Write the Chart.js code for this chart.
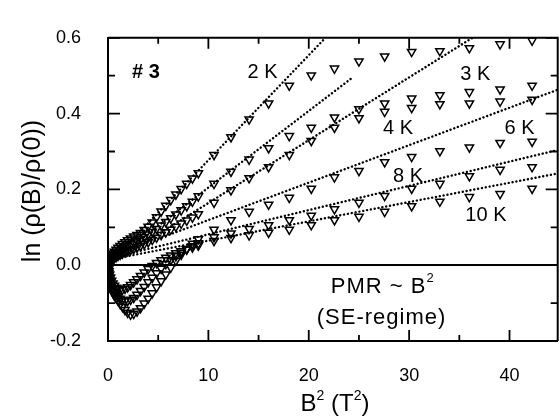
<!DOCTYPE html>
<html>
<head>
<meta charset="utf-8">
<script src="https://cdn.jsdelivr.net/npm/chart.js@4.4.1/dist/chart.umd.min.js"></script>
<style>
  html, body { margin: 0; padding: 0; background: #fff; overflow: hidden; }
  #wrap { width: 560px; height: 418px; position: relative; overflow: hidden; }
  canvas { display: block; }
</style>
</head>
<body>
<div id="wrap"><canvas id="mr" width="564" height="418" style="width:564px;height:418px"></canvas></div>
<script>
// B^2 (T^2): 0.1 T steps up to 3 T, then 0.25 T steps up to 6.5 T
const fieldSq = [0, 0.01, 0.04, 0.09, 0.16, 0.25, 0.36, 0.49, 0.64, 0.81, 1, 1.21, 1.44, 1.69, 1.96,
  2.25, 2.56, 2.89, 3.24, 3.61, 4, 4.41, 4.84, 5.29, 5.76, 6.25, 6.76, 7.29, 7.84, 8.41, 9,
  10.56, 12.25, 14.06, 16, 18.06, 20.25, 22.56, 25, 27.56, 30.25, 33.06, 36, 39.06, 42.25];

// ln(rho(B)/rho(0)) for each temperature
const mr2K = [0, 0.002, 0.006, 0.011, 0.016, 0.021, 0.026, 0.031, 0.036, 0.041, 0.046, 0.051, 0.056, 0.061, 0.066,
  0.071, 0.076, 0.080, 0.085, 0.093, 0.102, 0.113, 0.127, 0.142, 0.157, 0.172, 0.187, 0.201, 0.215, 0.229, 0.243,
  0.291, 0.338, 0.385, 0.427, 0.474, 0.501, 0.519, 0.538, 0.551, 0.563, 0.565, 0.573, 0.583, 0.593];
const mr3K = [0, 0.001, 0.004, 0.008, 0.012, 0.016, 0.020, 0.024, 0.028, 0.032, 0.036, 0.040, 0.044, 0.048, 0.052,
  0.056, 0.060, 0.064, 0.069, 0.075, 0.081, 0.088, 0.096, 0.105, 0.114, 0.124, 0.134, 0.145, 0.156, 0.168, 0.182,
  0.215, 0.247, 0.279, 0.309, 0.341, 0.363, 0.390, 0.412, 0.427, 0.440, 0.449, 0.457, 0.464, 0.474];
const mr4K = [0, 0.001, 0.002, 0.004, 0.007, 0.010, 0.013, 0.016, 0.019, 0.022, 0.025, 0.028, 0.031, 0.034, 0.037,
  0.040, 0.043, 0.047, 0.051, 0.056, 0.061, 0.067, 0.073, 0.080, 0.087, 0.094, 0.102, 0.110, 0.118, 0.126, 0.135,
  0.165, 0.198, 0.230, 0.259, 0.291, 0.328, 0.363, 0.388, 0.405, 0.415, 0.425, 0.427, 0.432, 0.437];
const mr6K = [0, -0.003, -0.012, -0.025, -0.040, -0.052, -0.063, -0.072, -0.080, -0.087, -0.093, -0.102, -0.110, -0.118, -0.125,
  -0.130, -0.128, -0.122, -0.113, -0.101, -0.088, -0.074, -0.058, -0.042, -0.024, -0.006, 0.012, 0.028, 0.043, 0.057, 0.069,
  0.094, 0.119, 0.141, 0.160, 0.178, 0.202, 0.232, 0.249, 0.272, 0.286, 0.301, 0.311, 0.323, 0.326];
const mr8K = [0, -0.003, -0.010, -0.020, -0.032, -0.043, -0.053, -0.062, -0.070, -0.077, -0.083, -0.088, -0.092, -0.094, -0.094,
  -0.091, -0.086, -0.078, -0.068, -0.057, -0.045, -0.033, -0.021, -0.009, 0.003, 0.014, 0.024, 0.033, 0.042, 0.050, 0.058,
  0.074, 0.084, 0.096, 0.106, 0.119, 0.131, 0.148, 0.165, 0.183, 0.202, 0.215, 0.235, 0.252, 0.259];
const mr10K = [0, -0.002, -0.008, -0.016, -0.025, -0.033, -0.041, -0.048, -0.054, -0.059, -0.062, -0.064, -0.064, -0.062, -0.058,
  -0.052, -0.045, -0.037, -0.028, -0.019, -0.010, -0.002, 0.006, 0.013, 0.020, 0.026, 0.032, 0.037, 0.042, 0.047, 0.052,
  0.064, 0.072, 0.079, 0.086, 0.094, 0.106, 0.119, 0.128, 0.141, 0.156, 0.168, 0.180, 0.188, 0.202];

// straight-line fits ln(rho) = a + b*B^2, given by their end points [x0, y0, x1, y1]
const fit2K  = [1, 0.028, 21.66, 0.600];
const fit3K  = [1, 0.023, 24.3, 0.494];
const fit4K  = [1, 0.015, 36.3, 0.600];
const fit6K  = [1, 0.030, 44.8, 0.463];
const fit8K  = [1, 0.024, 44.8, 0.304];
const fit10K = [1, 0.019, 44.8, 0.242];

// axis ticks
const xMajorTicks = [0, 10, 20, 30, 40];
const xMinorTicks = [5, 15, 25, 35];
const yMajorTicks = [-0.2, 0.0, 0.2, 0.4, 0.6];
const yMinorTicks = [-0.1, 0.1, 0.3, 0.5];

// curve labels: [text, x, y, bold]
const curveLabels = [
  ['# 3', 2.4, 0.494, true],
  ['2 K', 13.9, 0.494, false],
  ['3 K', 35.1, 0.489, false],
  ['4 K', 27.4, 0.346, false],
  ['6 K', 39.5, 0.346, false],
  ['8 K', 28.4, 0.220, false],
  ['10 K', 35.6, 0.116, false]
];

const FONT = '"Liberation Sans", Arial, Helvetica, sans-serif';

function points(ys) { return fieldSq.map((x, i) => ({ x: x, y: ys[i] })); }
function seg(f) { return [{ x: f[0], y: f[1] }, { x: f[2], y: f[3] }]; }

function markerSet(label, ys) {
  return {
    type: 'scatter', label: label, data: points(ys),
    pointStyle: 'triangle', rotation: 180, pointRadius: 4.8, pointHoverRadius: 4.8,
    borderColor: '#000', backgroundColor: 'rgba(0,0,0,0)', borderWidth: 1.5, showLine: false
  };
}
function fitSet(label, f) {
  return {
    type: 'line', label: label, data: seg(f), showLine: true,
    borderColor: '#000', borderWidth: 2.4, borderDash: [0.1, 3.8], borderCapStyle: 'round',
    pointRadius: 0, fill: false, tension: 0
  };
}

// inward ticks, frame and all annotation text
const framePlugin = {
  id: 'frame',
  afterDatasetsDraw(chart) {
    const { ctx, chartArea: a, scales: { x, y } } = chart;
    ctx.save();
    ctx.strokeStyle = '#000';
    ctx.lineWidth = 2;
    // top and right edges of the frame
    ctx.beginPath();
    ctx.moveTo(a.left, a.top); ctx.lineTo(a.right, a.top); ctx.lineTo(a.right, a.bottom);
    ctx.stroke();
    ctx.lineWidth = 1.8;
    const tick = (v, len, horiz) => {
      ctx.beginPath();
      if (horiz) {
        const px = x.getPixelForValue(v);
        ctx.moveTo(px, a.bottom); ctx.lineTo(px, a.bottom - len);
        ctx.moveTo(px, a.top); ctx.lineTo(px, a.top + len);
      } else {
        const py = y.getPixelForValue(v);
        ctx.moveTo(a.left, py); ctx.lineTo(a.left + len, py);
        ctx.moveTo(a.right, py); ctx.lineTo(a.right - len, py);
      }
      ctx.stroke();
    };
    xMajorTicks.forEach(v => tick(v, 11, true));
    xMinorTicks.forEach(v => tick(v, 6, true));
    yMajorTicks.forEach(v => tick(v, 12, false));
    yMinorTicks.forEach(v => tick(v, 7, false));

    ctx.fillStyle = '#000';
    ctx.textBaseline = 'alphabetic';
    ctx.textAlign = 'left';
    curveLabels.forEach(([t, vx, vy, bold]) => {
      ctx.font = (bold ? 'bold ' : '') + '20px ' + FONT;
      ctx.fillText(t, x.getPixelForValue(vx), y.getPixelForValue(vy));
    });

    // PMR ~ B^2 (SE-regime)
    ctx.letterSpacing = '1px';
    ctx.font = '22px ' + FONT;
    let px = x.getPixelForValue(22.2), py = y.getPixelForValue(-0.074);
    ctx.fillText('PMR ~ B', px, py);
    let w = ctx.measureText('PMR ~ B').width;
    ctx.font = '13px ' + FONT;
    ctx.fillText('2', px + w, py - 11);
    ctx.font = '22px ' + FONT;
    ctx.fillText('(SE-regime)', x.getPixelForValue(20.8), y.getPixelForValue(-0.156));
    ctx.letterSpacing = '0px';

    // x-axis title: B^2 (T^2)
    const big = '24px ' + FONT, small = '14px ' + FONT;
    const parts = [['B', big, 0], ['2', small, -11], [' (T', big, 0], ['2', small, -11], [')', big, 0]];
    let total = 0;
    parts.forEach(p => { ctx.font = p[1]; total += ctx.measureText(p[0]).width; });
    let cx = 335 - total / 2;
    const by = 411;
    parts.forEach(p => { ctx.font = p[1]; ctx.fillText(p[0], cx, by + p[2]); cx += ctx.measureText(p[0]).width; });

    // y-axis title
    ctx.translate(40, 191);
    ctx.rotate(-Math.PI / 2);
    ctx.font = '25px ' + FONT;
    ctx.textAlign = 'center';
    ctx.fillText('ln (\u03C1(B)/\u03C1(0))', 0, 0);
    ctx.restore();
  }
};

new Chart(document.getElementById('mr'), {
  data: {
    datasets: [
      markerSet('2 K', mr2K), markerSet('3 K', mr3K), markerSet('4 K', mr4K),
      markerSet('6 K', mr6K), markerSet('8 K', mr8K), markerSet('10 K', mr10K),
      fitSet('fit 2 K', fit2K), fitSet('fit 3 K', fit3K), fitSet('fit 4 K', fit4K),
      fitSet('fit 6 K', fit6K), fitSet('fit 8 K', fit8K), fitSet('fit 10 K', fit10K)
    ]
  },
  options: {
    responsive: false,
    animation: false,
    devicePixelRatio: 1,
    layout: { padding: { top: 16, right: 3, left: 0, bottom: 0 } },
    plugins: { legend: { display: false }, tooltip: { enabled: false } },
    scales: {
      x: {
        type: 'linear', min: 0, max: 44.8,
        afterFit: s => { s.height = 77; },
        afterBuildTicks: s => { s.ticks = xMajorTicks.map(v => ({ value: v })); },
        ticks: { color: '#000', padding: 24, font: { family: FONT, size: 18 }, maxRotation: 0 },
        grid: { display: true, drawTicks: false, color: 'rgba(0,0,0,0)' },
        border: { display: true, color: '#000', width: 2 }
      },
      y: {
        type: 'linear', min: -0.2, max: 0.6,
        afterFit: s => { s.width = 108; },
        afterBuildTicks: s => { s.ticks = yMajorTicks.map(v => ({ value: v })); },
        ticks: { color: '#000', padding: 27, font: { family: FONT, size: 18 },
          callback: v => v.toFixed(1) },
        grid: { display: true, drawTicks: false, lineWidth: 2,
          color: c => (c.tick && Math.abs(c.tick.value) < 1e-9) ? '#000' : 'rgba(0,0,0,0)' },
        border: { display: true, color: '#000', width: 2 }
      }
    }
  },
  plugins: [framePlugin]
});
</script>
</body>
</html>
